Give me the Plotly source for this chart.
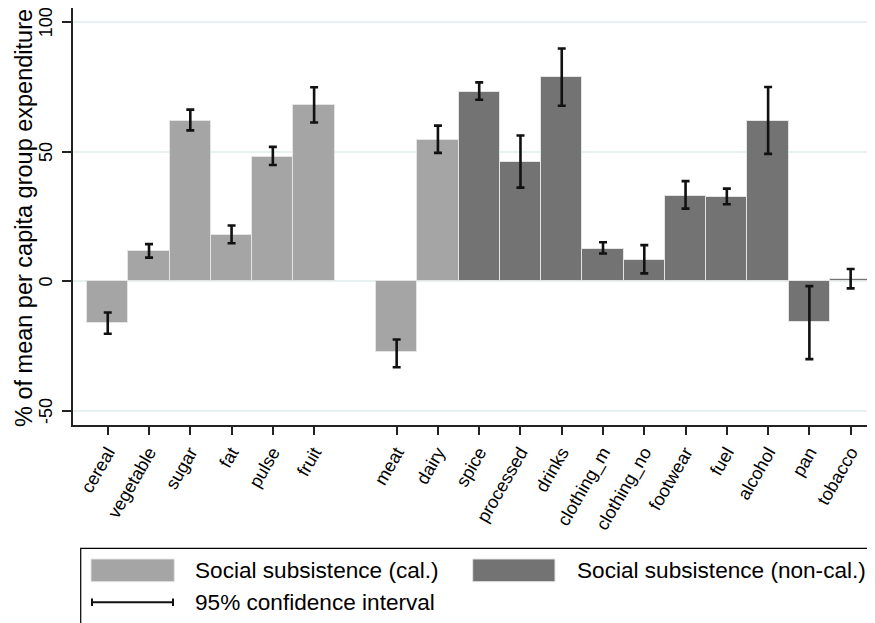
import plotly.graph_objects as go

# ---- data ----
cal_categories = ["cereal", "vegetable", "sugar", "fat", "pulse", "fruit"]
other_categories = ["meat", "dairy", "spice", "processed", "drinks", "clothing_m",
                    "clothing_no", "footwear", "fuel", "alcohol", "pan", "tobacco"]
values = [-16.3, 11.6, 61.9, 17.7, 48.1, 67.9,
          -27.5, 54.4, 73.0, 45.9, 78.6, 12.6, 8.2, 33.0, 32.4, 61.8, -15.9, 0.7]
ci_high = [-12.1, 14.3, 66.2, 21.5, 51.8, 74.8,
           -22.5, 60.0, 76.7, 56.2, 89.8, 15.0, 13.9, 38.6, 35.7, 74.9, -1.9, 4.7]
ci_low = [-20.3, 9.1, 58.2, 14.6, 44.8, 61.2,
          -33.2, 49.5, 70.0, 36.1, 67.7, 10.7, 3.0, 28.0, 29.7, 49.1, -30.1, -2.8]
series = ["cal", "cal", "cal", "cal", "cal", "cal",
          "cal", "cal", "non", "non", "non", "non", "non", "non", "non", "non", "non", "non"]
series_names = {"cal": "Social subsistence (cal.)", "non": "Social subsistence (non-cal.)"}
y_ticks = [-50, 0, 50, 100]
ci_label = "95% confidence interval"

colors = {"cal": "#a5a5a5", "non": "#737373"}

labels = cal_categories + other_categories
# positions: a one-slot gap between the two category groups
positions = list(range(len(cal_categories))) + \
    [len(cal_categories) + 1 + i for i in range(len(other_categories))]

FONT = "Liberation Sans, Arial, sans-serif"
OFF = 8  # default page body margin
W, H = 875 - OFF, 623 - OFF
L, R, T, B = 65, 0, 0, 198
PW, PH = W - L - R, H - T - B

fig = go.Figure()
for key in ["cal", "non"]:
    idx = [i for i, s in enumerate(series) if s == key]
    fig.add_trace(go.Bar(
        x=[positions[i] for i in idx],
        y=[values[i] for i in idx],
        width=1.0,
        marker=dict(color=colors[key], line=dict(color="#e4e4e4", width=1)),
        error_y=dict(type="data", symmetric=False,
                     array=[ci_high[i] - values[i] for i in idx],
                     arrayminus=[values[i] - ci_low[i] for i in idx],
                     color="#111111", thickness=2.6, width=4),
        name=series_names[key], showlegend=False,
    ))

fig.update_layout(
    width=W, height=H,
    margin=dict(l=L, r=R, t=T, b=B, pad=0, autoexpand=False),
    paper_bgcolor="white", plot_bgcolor="white",
    font=dict(family=FONT, color="black"),
    bargap=0,
    showlegend=False,
)
fig.update_xaxes(
    range=[-0.842, 18.59], automargin=False,
    tickmode="array", tickvals=positions, ticktext=labels,
    tickangle=-60, tickfont=dict(size=18, family=FONT, color="black"),
    ticks="outside", ticklen=8, tickwidth=1.5, tickcolor="#222",
    showline=True, linecolor="#222", linewidth=1.5,
    showgrid=False, zeroline=False,
)
fig.update_yaxes(
    range=[-55.5, 105.4], automargin=False,
    tickmode="array", tickvals=y_ticks, ticktext=[str(v) for v in y_ticks],
    tickangle=-90, tickfont=dict(size=18, family=FONT, color="black"),
    ticks="outside", ticklen=9, tickwidth=1.5, tickcolor="#222",
    ticklabelstandoff=3, ticklabelshift=3, ticklabeloverflow="allow",
    showline=True, linecolor="#222", linewidth=1.5,
    showgrid=True, gridcolor="#e8f1f2", gridwidth=1.5, zeroline=False,
)

def px(xp):
    return (xp - OFF - L) / PW

def py(yp):
    return (H - B - (yp - OFF)) / PH

# y axis title
fig.add_annotation(text="% of mean per capita group expenditure",
                   xref="paper", yref="paper", x=px(23.5), y=py(218.5),
                   xanchor="center", yanchor="middle", textangle=-90,
                   showarrow=False, font=dict(size=23.5, family=FONT, color="black"))

# legend box (manual, Stata style)
shapes = []
shapes.append(dict(type="rect", xref="paper", yref="paper",
                   x0=px(80.7), x1=px(890), y0=py(548.3), y1=py(640),
                   line=dict(color="black", width=1.2), fillcolor="white", layer="above"))
for key, x0, x1 in [("cal", 91, 174.3), ("non", 472.7, 555)]:
    shapes.append(dict(type="rect", xref="paper", yref="paper",
                       x0=px(x0), x1=px(x1), y0=py(559), y1=py(581.7),
                       line=dict(color="#e4e4e4", width=1), fillcolor=colors[key], layer="above"))
shapes.append(dict(type="line", xref="paper", yref="paper",
                   x0=px(91), x1=px(174), y0=py(602.3), y1=py(602.3),
                   line=dict(color="#111", width=2), layer="above"))
for xc in (92, 173):
    shapes.append(dict(type="line", xref="paper", yref="paper",
                       x0=px(xc), x1=px(xc), y0=py(598.5), y1=py(606),
                       line=dict(color="#111", width=2), layer="above"))
fig.update_layout(shapes=shapes)

for text, x, y in [(series_names["cal"], 193, 570.5), (series_names["non"], 575, 570.5),
                   (ci_label, 193, 602.5)]:
    fig.add_annotation(text=text, xref="paper", yref="paper", x=px(x), y=py(y),
                       xanchor="left", yanchor="middle", showarrow=False,
                       font=dict(size=22.6, family=FONT, color="black"))

fig.write_html("out.html")
